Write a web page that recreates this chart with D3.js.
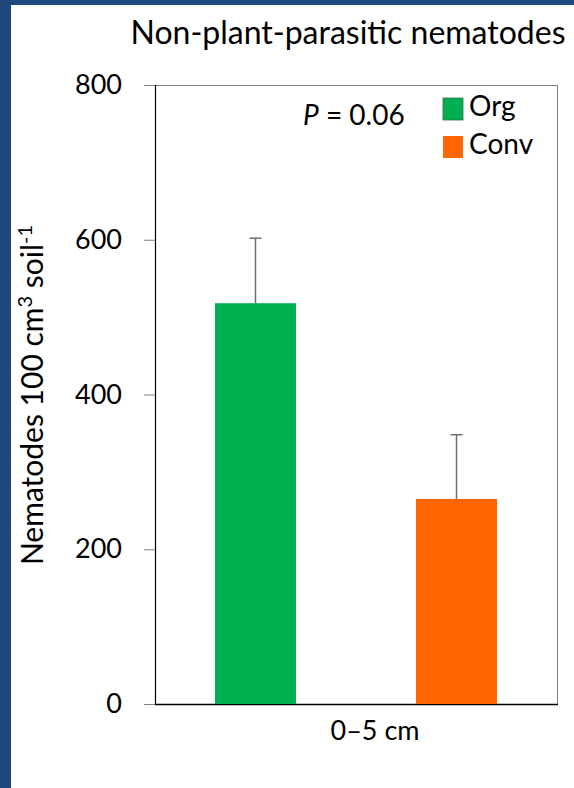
<!DOCTYPE html>
<html>
<head>
<meta charset="utf-8">
<script src="https://cdn.jsdelivr.net/npm/d3@7"></script>
<style>
  html, body { margin: 0; padding: 0; background: #fff; }
  svg { display: block; }
  text { font-family: Lato, "Noto Sans", sans-serif; fill: #000; }
</style>
</head>
<body>
<svg id="chart" width="574" height="788"></svg>
<script>
// Nematode counts at 0–5 cm depth, organic vs conventional
const categories = ["0–5 cm"];
const series = ["Org", "Conv"];
const means = [518, 265];
const errors = [84, 83];
const colors = ["#00b050", "#ff6600"];
const yTicks = [0, 200, 400, 600, 800];
const pLabel = "0.06";
const title = "Non-plant-parasitic nematodes";

const W = 574, H = 788;
const margin = { left: 155, right: 17, top: 85, bottom: 84 };
const svg = d3.select("#chart");

// slide frame
svg.append("rect").attr("x", 0).attr("y", 0).attr("width", W).attr("height", 5).attr("fill", "#1f497d");
svg.append("rect").attr("x", 0).attr("y", 0).attr("width", 11).attr("height", H).attr("fill", "#1f497d");

const x0 = margin.left, x1 = W - margin.right;
const yTop = margin.top, yBot = H - margin.bottom;

const xCat = d3.scaleBand().domain(categories).range([x0, x1]).padding(0);
const xSer = d3.scaleBand().domain(series).range([0, xCat.bandwidth()])
  .paddingInner(0.597).paddingOuter(0.2985);
const y = d3.scaleLinear().domain([0, 800]).range([yBot, yTop]);

// plot frame: grey top/right, black left/bottom
svg.append("line").attr("x1", x0).attr("x2", x1).attr("y1", yTop + 0.5).attr("y2", yTop + 0.5)
  .attr("stroke", "#808080").attr("stroke-width", 1);
svg.append("line").attr("x1", x1 + 0.5).attr("x2", x1 + 0.5).attr("y1", yTop).attr("y2", yBot)
  .attr("stroke", "#808080").attr("stroke-width", 1);

// y axis
const yAxis = svg.append("g").attr("transform", `translate(${x0},0)`)
  .call(d3.axisLeft(y).tickValues(yTicks).tickSize(11).tickPadding(22).tickFormat(d3.format("d")));
yAxis.select(".domain").remove();
yAxis.selectAll(".tick line").attr("stroke", "#808080");
yAxis.selectAll(".tick text").attr("font-size", 27).attr("font-family", "Lato, sans-serif").attr("fill", "#000");
svg.append("line").attr("x1", x0 + 0.5).attr("x2", x0 + 0.5).attr("y1", yTop).attr("y2", yBot)
  .attr("stroke", "#000").attr("stroke-width", 1.2);

// x axis
const xAxis = svg.append("g").attr("transform", `translate(0,${yBot})`)
  .call(d3.axisBottom(xCat).tickSize(0).tickPadding(12));
xAxis.select(".domain").remove();
xAxis.selectAll(".tick text").attr("font-size", 27).attr("font-family", "Lato, sans-serif")
  .attr("fill", "#000").attr("dx", 19).attr("dy", "0.9em");
svg.append("line").attr("x1", x0).attr("x2", x1 + 1).attr("y1", yBot + 0.5).attr("y2", yBot + 0.5)
  .attr("stroke", "#000").attr("stroke-width", 1.5);

// bars
const g = svg.append("g");
series.forEach((s, i) => {
  const bx = xCat(categories[0]) + xSer(s);
  g.append("rect").attr("x", bx).attr("y", y(means[i]))
    .attr("width", xSer.bandwidth()).attr("height", y(0) - y(means[i]))
    .attr("fill", colors[i]);
  const cx = bx + xSer.bandwidth() / 2;
  g.append("line").attr("x1", cx).attr("x2", cx)
    .attr("y1", y(means[i])).attr("y2", y(means[i] + errors[i]))
    .attr("stroke", "#6e6e6e").attr("stroke-width", 1.5);
  g.append("line").attr("x1", cx - 6).attr("x2", cx + 6)
    .attr("y1", y(means[i] + errors[i])).attr("y2", y(means[i] + errors[i]))
    .attr("stroke", "#6e6e6e").attr("stroke-width", 1.5);
});

// title
svg.append("text").attr("x", 348).attr("y", 44).attr("text-anchor", "middle")
  .attr("font-size", 32).text(title);

// y axis label
const yl = svg.append("text").attr("transform", "translate(43,395) rotate(-90)")
  .attr("text-anchor", "middle").attr("font-size", 30);
yl.append("tspan").text("Nematodes 100 cm");
yl.append("tspan").attr("dy", -11).attr("font-size", 20).text("3");
yl.append("tspan").attr("dy", 11).text(" soil");
yl.append("tspan").attr("dy", -11).attr("font-size", 20).text("-1");

// P value
const pt = svg.append("text").attr("x", 303).attr("y", 125).attr("font-size", 28);
pt.append("tspan").attr("font-style", "italic").text("P");
pt.append("tspan").text(" = " + pLabel);

// legend
const leg = svg.append("g");
series.forEach((s, i) => {
  const ly = 98 + i * 38;
  leg.append("rect").attr("x", 443).attr("y", ly).attr("width", 20).attr("height", 22)
    .attr("fill", colors[i]).attr("stroke", i === 0 ? "#3a6b4a" : "none").attr("stroke-width", 0.8);
  leg.append("text").attr("x", 469).attr("y", ly + 18).attr("font-size", 28).text(s);
});
</script>
</body>
</html>
